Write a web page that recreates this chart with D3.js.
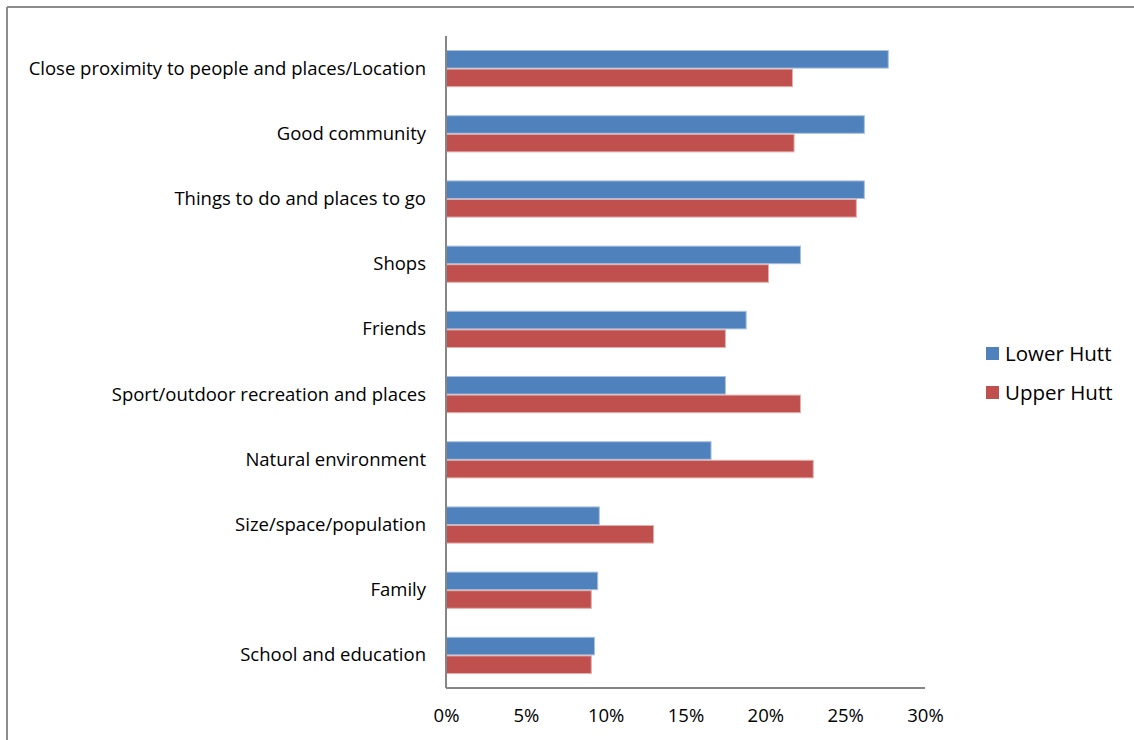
<!DOCTYPE html>
<html>
<head>
<meta charset="utf-8">
<script src="https://cdn.jsdelivr.net/npm/d3@7/dist/d3.min.js"></script>
<style>
  html, body { margin: 0; padding: 0; background: #fff; }
  svg { display: block; font-family: "Open Sans", "Liberation Sans", sans-serif; }
</style>
</head>
<body>
<svg id="chart" width="1134" height="740"></svg>
<script>
// Reasons people give for liking where they live, by city
const categories = [
  "Close proximity to people and places/Location",
  "Good community",
  "Things to do and places to go",
  "Shops",
  "Friends",
  "Sport/outdoor recreation and places",
  "Natural environment",
  "Size/space/population",
  "Family",
  "School and education"
];
const seriesNames = ["Lower Hutt", "Upper Hutt"];
const lowerHutt = [27.7, 26.2, 26.2, 22.2, 18.8, 17.5, 16.6, 9.6, 9.5, 9.3];
const upperHutt = [21.7, 21.8, 25.7, 20.2, 17.5, 22.2, 23.0, 13.0, 9.1, 9.1];
const xTicks = [0, 5, 10, 15, 20, 25, 30];
const colors = ["#4F81BD", "#C0504D"];

const svg = d3.select("#chart");

// Outer frame (top and left edges only)
svg.append("line").attr("x1", 7).attr("x2", 1134).attr("y1", 7).attr("y2", 7)
  .attr("stroke", "#8c8c8c").attr("stroke-width", 2);
svg.append("line").attr("x1", 7).attr("x2", 7).attr("y1", 7).attr("y2", 740)
  .attr("stroke", "#8c8c8c").attr("stroke-width", 2);

const plot = { left: 446, right: 925, top: 36, bottom: 688 };

const x = d3.scaleLinear().domain([0, 30]).range([plot.left, plot.right]);
const y = d3.scaleBand().domain(categories).range([plot.top, plot.bottom]).paddingInner(0.43).paddingOuter(0.215);
const ySub = d3.scaleBand().domain(seriesNames).range([0, y.bandwidth()]);

const data = categories.map((c, i) => ({ cat: c, values: [lowerHutt[i], upperHutt[i]] }));

// Bars
const groups = svg.append("g").selectAll("g").data(data).join("g")
  .attr("transform", d => `translate(0,${y(d.cat)})`);
groups.selectAll("rect")
  .data(d => d.values.map((v, k) => ({ v, k })))
  .join("rect")
  .attr("x", x(0))
  .attr("y", d => ySub(seriesNames[d.k]) + 0.5)
  .attr("width", d => x(d.v) - x(0))
  .attr("height", ySub.bandwidth() - 1)
  .attr("fill", d => colors[d.k])
  .attr("stroke", d => d.k === 0 ? "#a9c0de" : "#e3aeac")
  .attr("stroke-width", 1);

// Category axis
const yAxis = svg.append("g").attr("transform", `translate(${plot.left},0)`)
  .call(d3.axisLeft(y).tickSize(0).tickPadding(20));
yAxis.select(".domain").attr("stroke", "#868686").attr("stroke-width", 2)
  .attr("d", `M0,${plot.top}V${plot.bottom}`);
yAxis.selectAll("text").attr("font-size", 18.5).attr("fill", "#000")
  .attr("font-family", "Open Sans, Liberation Sans, sans-serif");

// Value axis
const xAxis = svg.append("g").attr("transform", `translate(0,${plot.bottom})`)
  .call(d3.axisBottom(x).tickValues(xTicks).tickSize(0).tickPadding(21).tickFormat(d => d + "%"));
xAxis.select(".domain").attr("stroke", "#868686").attr("stroke-width", 2)
  .attr("d", `M${plot.left},0H${plot.right}`);
xAxis.selectAll("text").attr("font-size", 18.5).attr("fill", "#000")
  .attr("font-family", "Open Sans, Liberation Sans, sans-serif");

// Legend
const legend = svg.append("g").attr("transform", "translate(986,347)");
seriesNames.forEach((name, i) => {
  const g = legend.append("g").attr("transform", `translate(0,${i * 39})`);
  g.append("rect").attr("width", 13).attr("height", 13).attr("fill", colors[i]);
  g.append("text").attr("x", 19).attr("y", 14).attr("font-size", 20.5).attr("fill", "#000").text(name);
});
</script>
</body>
</html>
